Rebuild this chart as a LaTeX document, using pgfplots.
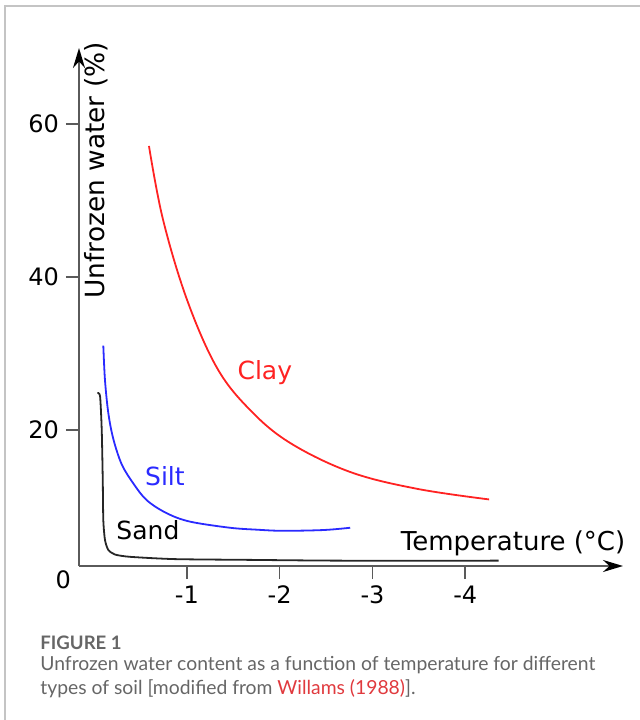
\documentclass[border=0pt]{standalone}
\usepackage{pgfplots}
\pgfplotsset{compat=1.18}
\usepackage{fontspec}
\setmainfont{DejaVu Sans}
\newfontfamily\capfont{Lato}
\usetikzlibrary{arrows.meta}

\definecolor{axisgray}{HTML}{5A5A5A}
\definecolor{framegray}{HTML}{C4C4C4}
\definecolor{capgray}{HTML}{666666}
\definecolor{capred}{HTML}{E03A3E}
\definecolor{clayred}{HTML}{FF2222}
\definecolor{siltblue}{HTML}{2A2AFF}
\definecolor{sandblack}{HTML}{262626}

% x values are the magnitude of the temperature (deg C below zero)
\pgfplotstableread{
x y
0.034 24.8
0.064 24.4
0.082 20.0
0.093 13.5
0.099 8.2
0.117 5.6
0.153 4.3
0.225 3.7
0.387 3.4
0.870 3.1
1.680 3.0
2.650 2.9
4.360 2.9
}\sand

\pgfplotstableread{
x y
0.099 31.0
0.117 26.5
0.153 22.2
0.207 18.8
0.297 15.5
0.422 13.0
0.567 10.8
0.782 9.1
1.033 8.0
1.464 7.2
1.750 6.95
2.030 6.8
2.470 6.9
2.760 7.2
}\silt

\pgfplotstableread{
x y
0.591 57.1
0.742 47.5
1.001 37.0
1.324 28.1
1.680 22.6
2.110 18.3
2.757 14.5
3.475 12.3
4.257 10.9
}\clay

\begin{document}
\begin{tikzpicture}
\path[use as bounding box] (0,0) rectangle (320pt,360pt);
\draw[framegray, line width=0.6pt] (2.5pt,0) -- (2.5pt,357pt) -- (320pt,357pt);

\begin{axis}[
  at={(39.5pt,77pt)}, anchor=south west,
  scale only axis, width=272pt, height=259pt,
  xmin=-0.163, xmax=5.70, ymin=2.2, ymax=69.9,
  axis lines=left,
  axis line style={line width=1pt, draw=axisgray, -{Stealth[length=10pt,width=6pt,color=black]}},
  xtick={1,2,3,4}, xticklabels={-1,-2,-3,-4},
  ytick={20,40,60},
  tick align=outside, major tick length=6.5pt,
  tick style={line width=0.8pt, draw=axisgray},
  tick label style={font=\fontsize{12}{14}\selectfont, text=black},
  /pgf/number format/assume math mode=true,
  xlabel={Temperature (°C)},
  ylabel={Unfrozen water (\%)},
  every axis x label/.style={at={(axis description cs:0.798,0.044)}, anchor=center, font=\fontsize{13}{15}\selectfont},
  every axis y label/.style={at={(axis description cs:0.031,0.764)}, rotate=90, anchor=center, font=\fontsize{13.2}{15}\selectfont},
  clip=false,
]
\addplot[sandblack, line width=0.9pt, smooth, tension=0.4] table {\sand};
\addplot[siltblue, line width=0.9pt, smooth, tension=0.55] table {\silt};
\addplot[clayred, line width=0.9pt, smooth, tension=0.6] table {\clay};

\node[clayred, font=\fontsize{12.5}{14}\selectfont] at (axis cs:1.84,27.5) {Clay};
\node[siltblue, font=\fontsize{12.5}{14}\selectfont] at (axis cs:0.763,13.9) {Silt};
\node[black, font=\fontsize{12.5}{14}\selectfont] at (axis cs:0.58,6.9) {Sand};
\node[font=\fontsize{12}{14}\selectfont] at (axis description cs:-0.029,-0.027) {0};
\end{axis}

\node[anchor=base west, capgray, inner sep=0pt, font=\capfont\bfseries\fontsize{9.3}{11}\selectfont] at (20pt,35pt) {FIGURE 1};
\node[anchor=base west, capgray, inner sep=0pt, font=\capfont\fontsize{9.66}{11}\selectfont] at (20pt,24.5pt)
  {Unfrozen water content as a function of temperature for different};
\node[anchor=base west, capgray, inner sep=0pt, font=\capfont\fontsize{9.66}{11}\selectfont] at (20pt,12.8pt)
  {types of soil [modified from \textcolor{capred}{Willams (1988)}].};
\end{tikzpicture}
\end{document}
